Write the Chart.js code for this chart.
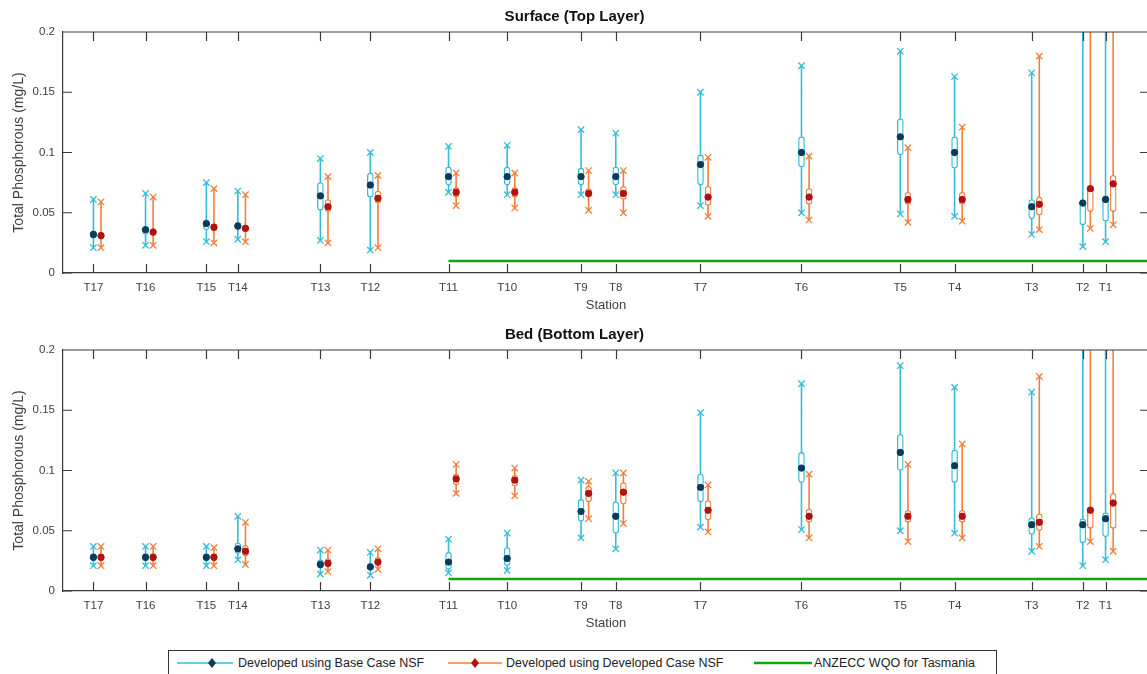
<!DOCTYPE html>
<html>
<head>
<meta charset="utf-8">
<script src="https://cdn.jsdelivr.net/npm/chart.js@4.4.1/dist/chart.umd.min.js"></script>
<style>
  html, body { margin: 0; padding: 0; background: #fff; overflow: hidden; width: 1147px; height: 674px; }
  canvas { position: absolute; left: 0; }
  #top { top: 0; }
  #bed { top: 318px; }
  #legend { position: absolute; left: 168px; top: 650px; width: 829px; height: 30px; border: 1px solid #333; box-sizing: border-box; background: #fff;
            font-family: 'Liberation Sans', Arial, sans-serif; font-size: 12.5px; color: #222; }
  #legend .it { position: absolute; top: 0; height: 24px; line-height: 24px; white-space: nowrap; }
  #legend svg { position: absolute; top: 7px; }
</style>
</head>
<body>
<canvas id="top" width="1160" height="318"></canvas>
<canvas id="bed" width="1160" height="318"></canvas>
<div id="legend">
  <svg style="left:8px" width="56" height="10"><line x1="0" y1="5" x2="56" y2="5" stroke="#36bcd4" stroke-width="1.5"/><polygon points="35,0 39,5 35,10 31,5" fill="#0b3b5c"/></svg>
  <span class="it" style="left:69px">Developed using Base Case NSF</span>
  <svg style="left:279px" width="54" height="10"><line x1="0" y1="5" x2="54" y2="5" stroke="#f07f3c" stroke-width="1.5"/><polygon points="27,0 31,5 27,10 23,5" fill="#b01212"/></svg>
  <span class="it" style="left:337px">Developed using Developed Case NSF</span>
  <svg style="left:585px" width="58" height="10"><line x1="0" y1="5" x2="58" y2="5" stroke="#12a512" stroke-width="2.5"/></svg>
  <span class="it" style="left:645px">ANZECC WQO for Tasmania</span>
</div>
<script>
// stasiun dan posisinya sepanjang sumbu x
const stations = ['T17','T16','T15','T14','T13','T12','T11','T10','T9','T8','T7','T6','T5','T4','T3','T2','T1'];
const stationPos = [2.8, 7.6, 13.2, 16.1, 23.7, 28.3, 35.5, 40.9, 47.7, 50.9, 58.7, 68.0, 77.1, 82.1, 89.2, 93.9, 96.0];
const yTicks = [0, 0.05, 0.1, 0.15, 0.2];
const wqo = 0.01;       // ANZECC WQO
const wqoStart = 35.5;  // mulai dari T11

// Surface (Top Layer) - Base Case NSF
const surfBaseMax = [0.061,0.066,0.075,0.068,0.095,0.100,0.105,0.106,0.119,0.116,0.150,0.172,0.184,0.163,0.166,0.26,0.25];
const surfBaseQ3  = [0.035,0.038,0.044,0.042,0.075,0.083,0.088,0.088,0.087,0.088,0.098,0.113,0.128,0.113,0.061,0.061,0.064];
const surfBaseMed = [0.032,0.036,0.041,0.039,0.064,0.073,0.080,0.080,0.080,0.080,0.090,0.100,0.113,0.100,0.055,0.058,0.061];
const surfBaseQ1  = [0.029,0.032,0.036,0.036,0.052,0.063,0.073,0.073,0.073,0.073,0.073,0.088,0.098,0.087,0.045,0.040,0.043];
const surfBaseMin = [0.021,0.023,0.026,0.028,0.027,0.019,0.067,0.065,0.065,0.065,0.056,0.050,0.049,0.047,0.032,0.022,0.026];
// Surface (Top Layer) - Developed Case NSF
const surfDevMax = [0.059,0.063,0.070,0.065,0.080,0.081,0.083,0.083,0.085,0.085,0.096,0.097,0.104,0.121,0.180,0.26,0.25];
const surfDevQ3  = [0.034,0.036,0.041,0.040,0.061,0.068,0.071,0.071,0.070,0.072,0.072,0.070,0.067,0.067,0.063,0.072,0.081];
const surfDevMed = [0.031,0.034,0.038,0.037,0.055,0.062,0.067,0.067,0.066,0.066,0.063,0.063,0.061,0.061,0.057,0.070,0.074];
const surfDevQ1  = [0.029,0.031,0.035,0.035,0.051,0.058,0.063,0.063,0.063,0.061,0.056,0.057,0.057,0.057,0.048,0.051,0.051];
const surfDevMin = [0.021,0.023,0.025,0.026,0.025,0.021,0.056,0.054,0.052,0.050,0.047,0.044,0.042,0.043,0.036,0.037,0.040];

// Bed (Bottom Layer) - Base Case NSF
const bedBaseMax = [0.037,0.037,0.037,0.062,0.034,0.032,0.043,0.048,0.092,0.098,0.148,0.172,0.187,0.169,0.165,0.26,0.25];
const bedBaseQ3  = [0.031,0.031,0.031,0.040,0.026,0.023,0.032,0.036,0.076,0.074,0.097,0.115,0.130,0.117,0.061,0.060,0.065];
const bedBaseMed = [0.028,0.028,0.028,0.035,0.022,0.020,0.024,0.027,0.066,0.062,0.086,0.102,0.115,0.104,0.055,0.055,0.060];
const bedBaseQ1  = [0.025,0.025,0.025,0.031,0.019,0.017,0.018,0.021,0.058,0.048,0.074,0.090,0.100,0.090,0.047,0.040,0.045];
const bedBaseMin = [0.021,0.021,0.021,0.026,0.014,0.013,0.015,0.017,0.044,0.035,0.053,0.051,0.050,0.048,0.033,0.021,0.026];
// Bed (Bottom Layer) - Developed Case NSF
const bedDevMax = [0.037,0.037,0.036,0.057,0.034,0.035,0.105,0.102,0.091,0.098,0.088,0.097,0.105,0.122,0.178,0.26,0.25];
const bedDevQ3  = [0.031,0.031,0.031,0.038,0.027,0.028,0.097,0.096,0.087,0.090,0.075,0.068,0.067,0.067,0.064,0.070,0.081];
const bedDevMed = [0.028,0.028,0.028,0.033,0.023,0.024,0.093,0.092,0.081,0.082,0.067,0.062,0.062,0.062,0.057,0.067,0.073];
const bedDevQ1  = [0.025,0.025,0.025,0.029,0.020,0.021,0.088,0.087,0.074,0.072,0.059,0.057,0.057,0.057,0.050,0.052,0.052];
const bedDevMin = [0.021,0.021,0.021,0.022,0.016,0.018,0.081,0.079,0.060,0.056,0.049,0.044,0.041,0.044,0.037,0.041,0.033];

const teal = '#36bcd4', orange = '#f07f3c', navy = '#0b3b5c', darkRed = '#b01212', green = '#12a512';
const axisColor = '#3a3a3a';
const fontFam = "'Liberation Sans', Arial, sans-serif";

// bikin dataset boxplot untuk satu seri
function boxSeries(s, dx, lineColor, dotColor) {
    const whisker = [];
    stationPos.forEach((x, i) => {
        whisker.push({x: x + dx, y: s.min[i]}, {x: x + dx, y: s.max[i]}, {x: x + dx, y: null});
    });
    const crosses = [];
    stationPos.forEach((x, i) => {
        crosses.push({x: x + dx, y: s.min[i]}, {x: x + dx, y: s.max[i]});
    });
    return [
        { type: 'line', data: whisker, borderColor: lineColor, borderWidth: 1.6, pointRadius: 0, spanGaps: false, order: 5 },
        { type: 'bar', data: stationPos.map((x, i) => ({x: x + dx, y: [s.q1[i], s.q3[i]]})),
          backgroundColor: '#fff', borderColor: lineColor, borderWidth: 1.3, borderRadius: 3, borderSkipped: false,
          barThickness: 6, grouped: false, order: 4 },
        { type: 'scatter', data: crosses, pointStyle: 'crossRot', pointRadius: 4.5, borderColor: lineColor,
          backgroundColor: lineColor, pointBorderWidth: 1.3, order: 3 },
        { type: 'scatter', data: stationPos.map((x, i) => ({x: x + dx, y: s.med[i]})), pointStyle: 'circle',
          pointRadius: 3.2, backgroundColor: dotColor, borderColor: dotColor, order: 1 }
    ];
}

// bingkai dan tick ke dalam ala MATLAB
const frame = {
    id: 'frame',
    afterDraw(chart) {
        const {ctx, chartArea: a, scales: {x, y}} = chart;
        ctx.save();
        ctx.strokeStyle = axisColor;
        ctx.lineWidth = 1.2;
        ctx.beginPath();
        ctx.moveTo(a.left, a.top); ctx.lineTo(a.right, a.top); ctx.lineTo(a.right, a.bottom);
        x.ticks.forEach(t => {
            const px = Math.round(x.getPixelForValue(t.value)) + 0.5;
            ctx.moveTo(px, a.bottom); ctx.lineTo(px, a.bottom - 9);
            ctx.moveTo(px, a.top); ctx.lineTo(px, a.top + 9);
        });
        y.ticks.forEach(t => {
            const py = y.getPixelForValue(t.value);
            ctx.moveTo(a.left, py); ctx.lineTo(a.left + 9, py);
            ctx.moveTo(a.right, py); ctx.lineTo(a.right - 9, py);
        });
        ctx.stroke();
        ctx.restore();
    }
};

function createChart(id, title, base, dev) {
    const ctx = document.getElementById(id).getContext('2d');
    return new Chart(ctx, {
        type: 'scatter',
        data: {
            datasets: [
                ...boxSeries(base, 0, teal, navy),
                ...boxSeries(dev, 0.7, orange, darkRed),
                { type: 'line', data: [{x: wqoStart, y: wqo}, {x: 100, y: wqo}], borderColor: green, borderWidth: 2.5, pointRadius: 0, order: 6 }
            ]
        },
        options: {
            responsive: false,
            animation: false,
            layout: { padding: { left: 0, right: 11, top: 0, bottom: 0 } },
            plugins: {
                legend: { display: false },
                tooltip: { enabled: false },
                title: { display: true, text: title, color: '#111', font: { family: fontFam, size: 15, weight: 'bold' }, padding: { top: 8, bottom: 6 } }
            },
            scales: {
                x: {
                    type: 'linear', min: 0, max: 100, offset: false,
                    afterBuildTicks: scale => { scale.ticks = stationPos.map(v => ({ value: v })); },
                    afterFit: scale => { scale.height = 45; },
                    grid: { display: false, drawTicks: false },
                    border: { display: true, color: axisColor, width: 1.2 },
                    ticks: { autoSkip: false, maxRotation: 0, padding: 8, color: '#404040', font: { family: fontFam, size: 11.5 },
                             callback: v => stations[stationPos.indexOf(v)] },
                    title: { display: true, text: 'Station', color: '#404040', font: { family: fontFam, size: 13 }, padding: { top: 0, bottom: 5 } }
                },
                y: {
                    min: 0, max: 0.2,
                    afterBuildTicks: scale => { scale.ticks = yTicks.map(v => ({ value: v })); },
                    afterFit: scale => { scale.width = 63; },
                    grid: { display: false, drawTicks: false },
                    border: { display: true, color: axisColor, width: 1.2 },
                    ticks: { padding: 8, color: '#404040', font: { family: fontFam, size: 11.5 },
                             callback: v => String(+v.toFixed(2)) },
                    title: { display: true, text: 'Total Phosphorous (mg/L)', color: '#404040', font: { family: fontFam, size: 14 }, padding: { top: 11, bottom: 0 } }
                }
            }
        },
        plugins: [frame]
    });
}

createChart('top', 'Surface (Top Layer)',
    { min: surfBaseMin, q1: surfBaseQ1, med: surfBaseMed, q3: surfBaseQ3, max: surfBaseMax },
    { min: surfDevMin, q1: surfDevQ1, med: surfDevMed, q3: surfDevQ3, max: surfDevMax });
createChart('bed', 'Bed (Bottom Layer)',
    { min: bedBaseMin, q1: bedBaseQ1, med: bedBaseMed, q3: bedBaseQ3, max: bedBaseMax },
    { min: bedDevMin, q1: bedDevQ1, med: bedDevMed, q3: bedDevQ3, max: bedDevMax });
</script>
</body>
</html>
